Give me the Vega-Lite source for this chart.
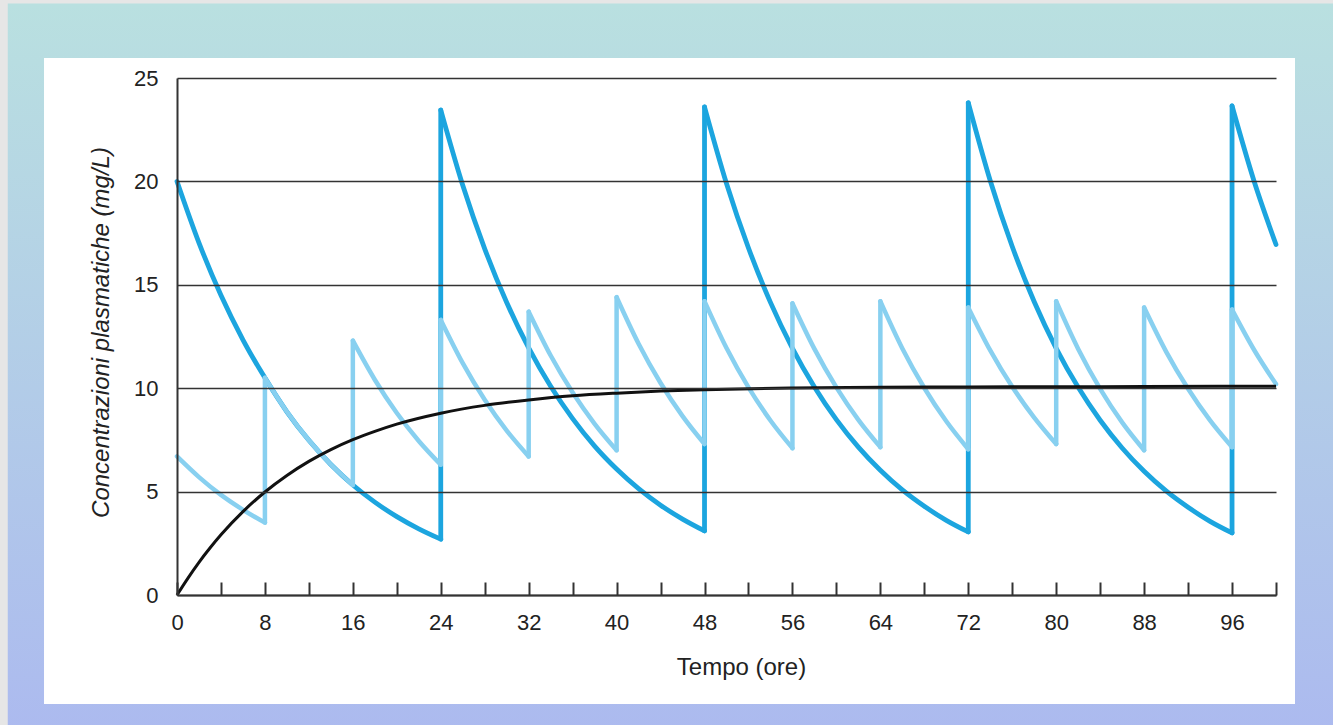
{
  "$schema": "https://vega.github.io/schema/vega-lite/v6.json",
  "width": 1099,
  "height": 517,
  "autosize": {"type": "none"},
  "padding": {"left": 177, "top": 78, "right": 57, "bottom": 130},
  "background": "#e6e6e6",
  "config": {
    "view": {"stroke": null},
    "axis": {
      "labelFont": "Liberation Sans", "labelFontSize": 22, "labelColor": "#222",
      "titleFont": "Liberation Sans", "titleFontSize": 24, "titleFontWeight": "normal", "titleColor": "#222",
      "domainColor": "#333", "domainWidth": 2, "gridColor": "#333", "gridWidth": 1.6, "gridOpacity": 1,
      "tickColor": "#333", "tickWidth": 2
    }
  },
  "datasets": {
    "dark": [
      {"seg": 1, "t": 0, "c": 20}, {"seg": 1, "t": 2, "c": 17.03}, {"seg": 1, "t": 4, "c": 14.49}, {"seg": 1, "t": 6, "c": 12.34}, {"seg": 1, "t": 8, "c": 10.5}, {"seg": 1, "t": 10, "c": 8.86}, {"seg": 1, "t": 12, "c": 7.48}, {"seg": 1, "t": 14, "c": 6.31}, {"seg": 1, "t": 16, "c": 5.32}, {"seg": 1, "t": 18, "c": 4.49}, {"seg": 1, "t": 20, "c": 3.79}, {"seg": 1, "t": 22, "c": 3.2}, {"seg": 1, "t": 24, "c": 2.7},
      {"seg": 2, "t": 24, "c": 23.45}, {"seg": 2, "t": 26, "c": 19.81}, {"seg": 2, "t": 28, "c": 16.74}, {"seg": 2, "t": 30, "c": 14.14}, {"seg": 2, "t": 32, "c": 11.95}, {"seg": 2, "t": 34, "c": 10.09}, {"seg": 2, "t": 36, "c": 8.53}, {"seg": 2, "t": 38, "c": 7.2}, {"seg": 2, "t": 40, "c": 6.09}, {"seg": 2, "t": 42, "c": 5.14}, {"seg": 2, "t": 44, "c": 4.34}, {"seg": 2, "t": 46, "c": 3.67}, {"seg": 2, "t": 48, "c": 3.1},
      {"seg": 3, "t": 48, "c": 23.6}, {"seg": 3, "t": 50, "c": 19.9}, {"seg": 3, "t": 52, "c": 16.78}, {"seg": 3, "t": 54, "c": 14.15}, {"seg": 3, "t": 56, "c": 11.93}, {"seg": 3, "t": 58, "c": 10.06}, {"seg": 3, "t": 60, "c": 8.48}, {"seg": 3, "t": 62, "c": 7.15}, {"seg": 3, "t": 64, "c": 6.03}, {"seg": 3, "t": 66, "c": 5.08}, {"seg": 3, "t": 68, "c": 4.29}, {"seg": 3, "t": 70, "c": 3.61}, {"seg": 3, "t": 72, "c": 3.05},
      {"seg": 4, "t": 72, "c": 23.8}, {"seg": 4, "t": 74, "c": 20.03}, {"seg": 4, "t": 76, "c": 16.85}, {"seg": 4, "t": 78, "c": 14.18}, {"seg": 4, "t": 80, "c": 11.93}, {"seg": 4, "t": 82, "c": 10.04}, {"seg": 4, "t": 84, "c": 8.45}, {"seg": 4, "t": 86, "c": 7.11}, {"seg": 4, "t": 88, "c": 5.98}, {"seg": 4, "t": 90, "c": 5.03}, {"seg": 4, "t": 92, "c": 4.24}, {"seg": 4, "t": 94, "c": 3.56}, {"seg": 4, "t": 96, "c": 3.0},
      {"seg": 5, "t": 96, "c": 23.65}, {"seg": 5, "t": 98, "c": 20.02}, {"seg": 5, "t": 100, "c": 16.95}
    ],
    "light": [
      {"seg": 0, "t": 0, "c": 6.7}, {"seg": 0, "t": 2, "c": 5.7}, {"seg": 0, "t": 4, "c": 4.84}, {"seg": 0, "t": 6, "c": 4.12}, {"seg": 0, "t": 8, "c": 3.5},
      {"seg": 1, "t": 8, "c": 10.5}, {"seg": 1, "t": 10, "c": 8.86}, {"seg": 1, "t": 12, "c": 7.48}, {"seg": 1, "t": 14, "c": 6.31}, {"seg": 1, "t": 16, "c": 5.32},
      {"seg": 2, "t": 16, "c": 12.3}, {"seg": 2, "t": 18, "c": 10.41}, {"seg": 2, "t": 20, "c": 8.8}, {"seg": 2, "t": 22, "c": 7.45}, {"seg": 2, "t": 24, "c": 6.3},
      {"seg": 3, "t": 24, "c": 13.3}, {"seg": 3, "t": 26, "c": 11.21}, {"seg": 3, "t": 28, "c": 9.44}, {"seg": 3, "t": 30, "c": 7.95}, {"seg": 3, "t": 32, "c": 6.7},
      {"seg": 4, "t": 32, "c": 13.7}, {"seg": 4, "t": 34, "c": 11.58}, {"seg": 4, "t": 36, "c": 9.79}, {"seg": 4, "t": 38, "c": 8.28}, {"seg": 4, "t": 40, "c": 7.0},
      {"seg": 5, "t": 40, "c": 14.4}, {"seg": 5, "t": 42, "c": 12.15}, {"seg": 5, "t": 44, "c": 10.25}, {"seg": 5, "t": 46, "c": 8.65}, {"seg": 5, "t": 48, "c": 7.3},
      {"seg": 6, "t": 48, "c": 14.2}, {"seg": 6, "t": 50, "c": 11.94}, {"seg": 6, "t": 52, "c": 10.04}, {"seg": 6, "t": 54, "c": 8.44}, {"seg": 6, "t": 56, "c": 7.1},
      {"seg": 7, "t": 56, "c": 14.1}, {"seg": 7, "t": 58, "c": 11.9}, {"seg": 7, "t": 60, "c": 10.04}, {"seg": 7, "t": 62, "c": 8.47}, {"seg": 7, "t": 64, "c": 7.15},
      {"seg": 8, "t": 64, "c": 14.2}, {"seg": 8, "t": 66, "c": 11.92}, {"seg": 8, "t": 68, "c": 10.01}, {"seg": 8, "t": 70, "c": 8.4}, {"seg": 8, "t": 72, "c": 7.05},
      {"seg": 9, "t": 72, "c": 13.9}, {"seg": 9, "t": 74, "c": 11.83}, {"seg": 9, "t": 76, "c": 10.07}, {"seg": 9, "t": 78, "c": 8.58}, {"seg": 9, "t": 80, "c": 7.3},
      {"seg": 10, "t": 80, "c": 14.2}, {"seg": 10, "t": 82, "c": 11.9}, {"seg": 10, "t": 84, "c": 9.97}, {"seg": 10, "t": 86, "c": 8.35}, {"seg": 10, "t": 88, "c": 7.0},
      {"seg": 11, "t": 88, "c": 13.9}, {"seg": 11, "t": 90, "c": 11.77}, {"seg": 11, "t": 92, "c": 9.97}, {"seg": 11, "t": 94, "c": 8.44}, {"seg": 11, "t": 96, "c": 7.15},
      {"seg": 12, "t": 96, "c": 13.8}, {"seg": 12, "t": 98, "c": 11.86}, {"seg": 12, "t": 100, "c": 10.2}
    ],
    "jumpsDark": [
      {"t": 24, "c": 2.7, "hi": 23.45}, {"t": 48, "c": 3.1, "hi": 23.6}, {"t": 72, "c": 3.05, "hi": 23.8}, {"t": 96, "c": 3.0, "hi": 23.65}
    ],
    "jumpsLight": [
      {"t": 8, "c": 3.5, "hi": 10.5}, {"t": 16, "c": 5.32, "hi": 12.3}, {"t": 24, "c": 6.3, "hi": 13.3}, {"t": 32, "c": 6.7, "hi": 13.7},
      {"t": 40, "c": 7.0, "hi": 14.4}, {"t": 48, "c": 7.3, "hi": 14.2}, {"t": 56, "c": 7.1, "hi": 14.1}, {"t": 64, "c": 7.15, "hi": 14.2},
      {"t": 72, "c": 7.05, "hi": 13.9}, {"t": 80, "c": 7.3, "hi": 14.2}, {"t": 88, "c": 7.0, "hi": 13.9}, {"t": 96, "c": 7.15, "hi": 13.8}
    ],
    "infusion": [
      {"t": 0, "c": 0}, {"t": 1, "c": 0.82}, {"t": 2, "c": 1.58}, {"t": 3, "c": 2.27}, {"t": 4, "c": 2.91}, {"t": 6, "c": 4.03},
      {"t": 8, "c": 4.98}, {"t": 10, "c": 5.78}, {"t": 12, "c": 6.46}, {"t": 14, "c": 7.03}, {"t": 16, "c": 7.51}, {"t": 18, "c": 7.91},
      {"t": 20, "c": 8.26}, {"t": 24, "c": 8.79}, {"t": 28, "c": 9.17}, {"t": 32, "c": 9.43}, {"t": 36, "c": 9.63}, {"t": 40, "c": 9.76},
      {"t": 44, "c": 9.86}, {"t": 48, "c": 9.93}, {"t": 56, "c": 10.01}, {"t": 64, "c": 10.04}, {"t": 72, "c": 10.06}, {"t": 80, "c": 10.07},
      {"t": 88, "c": 10.08}, {"t": 96, "c": 10.1}, {"t": 100, "c": 10.1}
    ]
  },
  "layer": [
    {
      "data": {"values": [{"panel": "background"}]},
      "mark": {"type": "rect", "zindex": 0, "fill": {"gradient": "linear", "x1": 0, "y1": 0, "x2": 0, "y2": 1, "stops": [{"offset": 0, "color": "#b9e0e0"}, {"offset": 1, "color": "#acbaef"}]}},
      "encoding": {
        "x": {"datum": -15.4, "type": "quantitative", "title": "Tempo (ore)", "scale": {"domain": [0, 100], "nice": false},
          "axis": {"title": "Tempo (ore)", "values": [0, 4, 8, 12, 16, 20, 24, 28, 32, 36, 40, 44, 48, 52, 56, 60, 64, 68, 72, 76, 80, 84, 88, 92, 96, 100],
            "labelExpr": "datum.value % 8 === 0 ? datum.label : ''", "tickSize": -13, "labelPadding": 30, "grid": false, "zindex": 1,
            "labelFlush": false, "labelOverlap": false, "titleX": 564, "titleY": 79, "titleBaseline": "alphabetic", "titleAlign": "center"}},
        "x2": {"datum": 106},
        "y": {"datum": 28.6, "type": "quantitative", "title": "Concentrazioni plasmatiche (mg/L)", "scale": {"domain": [0, 25], "nice": false},
          "axis": {"title": "Concentrazioni plasmatiche (mg/L)", "values": [0, 5, 10, 15, 20, 25], "ticks": false, "labelPadding": 19, "grid": true, "titleFontStyle": "italic", "zindex": 1,
            "titleX": -69, "titleY": 254, "titleAngle": -90, "titleBaseline": "alphabetic", "titleAlign": "center"}},
        "y2": {"datum": -6.6}
      }
    },
    {
      "data": {"values": [{"panel": "white"}]},
      "mark": {"type": "rect", "fill": "#ffffff", "zindex": 0},
      "encoding": {
        "x": {"datum": -12.1, "type": "quantitative", "title": "Tempo (ore)", "scale": {"domain": [0, 100], "nice": false}},
        "x2": {"datum": 101.73},
        "y": {"datum": 25.97, "type": "quantitative", "title": "Concentrazioni plasmatiche (mg/L)", "scale": {"domain": [0, 25], "nice": false}},
        "y2": {"datum": -5.27}
      }
    },
    {
      "data": {"name": "dark"},
      "mark": {"type": "line", "interpolate": "monotone", "stroke": "#1ca5df", "strokeWidth": 4.8, "strokeCap": "round", "zindex": 2},
      "encoding": {
        "x": {"field": "t", "type": "quantitative", "title": "Tempo (ore)", "scale": {"domain": [0, 100], "nice": false}},
        "y": {"field": "c", "type": "quantitative", "title": "Concentrazioni plasmatiche (mg/L)", "scale": {"domain": [0, 25], "nice": false}},
        "detail": {"field": "seg", "type": "nominal"}
      }
    },
    {
      "data": {"name": "jumpsDark"},
      "mark": {"type": "rule", "stroke": "#1ca5df", "strokeWidth": 4.8, "strokeCap": "round", "zindex": 2},
      "encoding": {
        "x": {"field": "t", "type": "quantitative", "title": "Tempo (ore)", "scale": {"domain": [0, 100], "nice": false}},
        "y": {"field": "c", "type": "quantitative", "title": "Concentrazioni plasmatiche (mg/L)", "scale": {"domain": [0, 25], "nice": false}},
        "y2": {"field": "hi"}
      }
    },
    {
      "data": {"name": "light"},
      "mark": {"type": "line", "interpolate": "monotone", "stroke": "#88d0f0", "strokeWidth": 4.5, "strokeCap": "round", "zindex": 2},
      "encoding": {
        "x": {"field": "t", "type": "quantitative", "title": "Tempo (ore)", "scale": {"domain": [0, 100], "nice": false}},
        "y": {"field": "c", "type": "quantitative", "title": "Concentrazioni plasmatiche (mg/L)", "scale": {"domain": [0, 25], "nice": false}},
        "detail": {"field": "seg", "type": "nominal"}
      }
    },
    {
      "data": {"name": "jumpsLight"},
      "mark": {"type": "rule", "stroke": "#88d0f0", "strokeWidth": 4.5, "strokeCap": "round", "zindex": 2},
      "encoding": {
        "x": {"field": "t", "type": "quantitative", "title": "Tempo (ore)", "scale": {"domain": [0, 100], "nice": false}},
        "y": {"field": "c", "type": "quantitative", "title": "Concentrazioni plasmatiche (mg/L)", "scale": {"domain": [0, 25], "nice": false}},
        "y2": {"field": "hi"}
      }
    },
    {
      "data": {"name": "infusion"},
      "mark": {"type": "line", "interpolate": "monotone", "stroke": "#111111", "strokeWidth": 3, "zindex": 2},
      "encoding": {
        "x": {"field": "t", "type": "quantitative", "title": "Tempo (ore)", "scale": {"domain": [0, 100], "nice": false}},
        "y": {"field": "c", "type": "quantitative", "title": "Concentrazioni plasmatiche (mg/L)", "scale": {"domain": [0, 25], "nice": false}}
      }
    }
  ]
}
